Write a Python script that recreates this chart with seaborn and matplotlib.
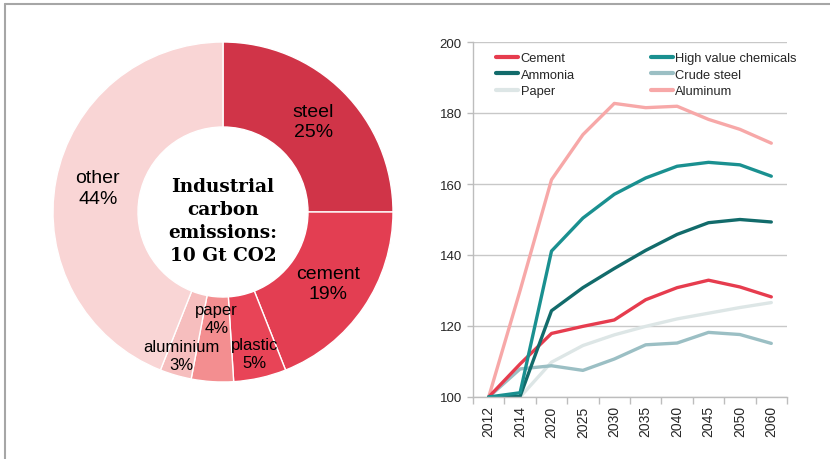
import numpy as np
import pandas as pd
import matplotlib
matplotlib.use("Agg")
import matplotlib.pyplot as plt
from matplotlib.lines import Line2D
import seaborn as sns

# ---------------- data ----------------
pie_labels = ["steel", "cement", "plastic", "paper", "aluminium", "other"]
pie_values = [25, 19, 5, 4, 3, 44]
pie_colors = ["#D03448", "#E33E52", "#E84457", "#F38E90", "#F6BEBE", "#F9D5D5"]

years = ["2012", "2014", "2020", "2025", "2030", "2035", "2040", "2045", "2050", "2060"]
cement = [100, 109.3, 117.9, 119.9, 121.7, 127.4, 130.8, 132.9, 131.0, 128.2]
high_value_chemicals = [100, 101.2, 141.1, 150.4, 157.1, 161.7, 165.0, 166.1, 165.4, 162.2]
ammonia = [100, 100.2, 124.3, 130.8, 136.2, 141.3, 145.8, 149.1, 150.0, 149.3]
crude_steel = [100, 107.9, 108.8, 107.5, 110.7, 114.7, 115.2, 118.2, 117.6, 115.1]
paper = [100, 100.0, 109.8, 114.5, 117.5, 119.9, 122.0, 123.6, 125.2, 126.6]
aluminum = [100, 130.0, 161.2, 173.9, 182.7, 181.5, 181.9, 178.2, 175.4, 171.5]

series_names = ["Cement", "Ammonia", "Paper", "High value chemicals", "Crude steel", "Aluminum"]
series_values = [cement, ammonia, paper, high_value_chemicals, crude_steel, aluminum]
series_colors = ["#E63C4E", "#126B6B", "#DDE6E6", "#1A9090", "#9BBFC4", "#F7A8A8"]
yticks = [100, 120, 140, 160, 180, 200]

# ---------------- figure ----------------
sns.set_theme(style="white")
plt.rcParams["font.family"] = ["Liberation Sans", "DejaVu Sans"]

W, H = 830, 460
fig = plt.figure(figsize=(W / 100, H / 100), dpi=100)

# frame lines (top and left)
fig.add_artist(Line2D([5 / W, 1], [1 - 5 / H, 1 - 5 / H], color="#A6A6A6", lw=1.5))
fig.add_artist(Line2D([5 / W, 5 / W], [0, 1 - 5 / H], color="#A6A6A6", lw=1.5))

# ---------------- donut ----------------
cx, cy, R = 223, 213, 170
axp = fig.add_axes([(cx - R) / W, 1 - (cy + R) / H, 2 * R / W, 2 * R / H])
wedges, _ = axp.pie(pie_values, colors=pie_colors, startangle=90, counterclock=False,
                    radius=1.0, wedgeprops=dict(width=0.5, edgecolor="white", linewidth=1.0))
axp.set_xlim(-1, 1)
axp.set_ylim(-1, 1)
axp.set_aspect("equal")
axp.axis("off")

label_r = [0.75, 0.75, 0.85, 0.63, 0.88, 0.75]
label_fs = [14, 14, 12, 12, 12, 14]
for w, lab, val, r, fs in zip(wedges, pie_labels, pie_values, label_r, label_fs):
    ang = np.deg2rad((w.theta1 + w.theta2) / 2)
    axp.text(r * np.cos(ang), r * np.sin(ang), f"{lab}\n{val}%", ha="center", va="center",
             fontsize=fs, color="black", linespacing=1.25)

axp.text(0, -0.05, "Industrial\ncarbon\nemissions:\n10 Gt CO2", ha="center", va="center",
         fontsize=13.3, fontweight="bold", family=["DejaVu Serif"], linespacing=1.38,
         color="black")

# ---------------- line chart ----------------
L, Rr, T, B = 473, 787, 43, 398
axl = fig.add_axes([L / W, 1 - B / H, (Rr - L) / W, (B - T) / H])

rows = []
for name, vals in zip(series_names, series_values):
    for i, (yr, v) in enumerate(zip(years, vals)):
        rows.append({"idx": i, "year": yr, "value": v, "series": name})
df = pd.DataFrame(rows)

draw_order = ["Aluminum", "Paper", "Crude steel", "Cement", "Ammonia", "High value chemicals"]
palette = dict(zip(series_names, series_colors))
for name in draw_order:
    sub = df[df["series"] == name]
    sns.lineplot(data=sub, x="idx", y="value", color=palette[name], lw=2.4,
                 ax=axl, sort=False, legend=False)

axl.set_xlim(-0.5, len(years) - 0.5)
axl.set_ylim(yticks[0], yticks[-1])
axl.set_yticks(yticks)
axl.set_yticklabels([str(t) for t in yticks], fontsize=9.5)
axl.set_xticks(range(len(years)))
axl.set_xticklabels(years, rotation=90, fontsize=10)
axl.set_xticks(np.arange(-0.5, len(years), 1.0), minor=True)
axl.tick_params(axis="x", which="major", length=0, pad=6)
axl.tick_params(axis="x", which="minor", length=5, width=1, color="#BDBDBD", direction="out", bottom=True)
axl.tick_params(axis="y", which="major", length=4, width=1, color="#BDBDBD", direction="out", left=True, pad=4)
axl.set_xlabel("")
axl.set_ylabel("")
axl.grid(axis="y", color="#C8C8C8", lw=1)
axl.grid(axis="x", visible=False)
for s in ["top", "right"]:
    axl.spines[s].set_visible(False)
for s in ["left", "bottom"]:
    axl.spines[s].set_color("#BDBDBD")
    axl.spines[s].set_linewidth(1)

handles = [Line2D([0], [0], color=c, lw=3) for c in series_colors]
leg = fig.legend(handles, series_names, ncol=2, loc="upper left",
                 bbox_to_anchor=(496 / W, 1 - 53 / H), frameon=False, fontsize=9.3,
                 handlelength=1.7, handletextpad=0.2, columnspacing=5.9,
                 labelspacing=0.35, borderpad=0, borderaxespad=0)

fig.savefig("out.png", dpi=100, facecolor="white")
